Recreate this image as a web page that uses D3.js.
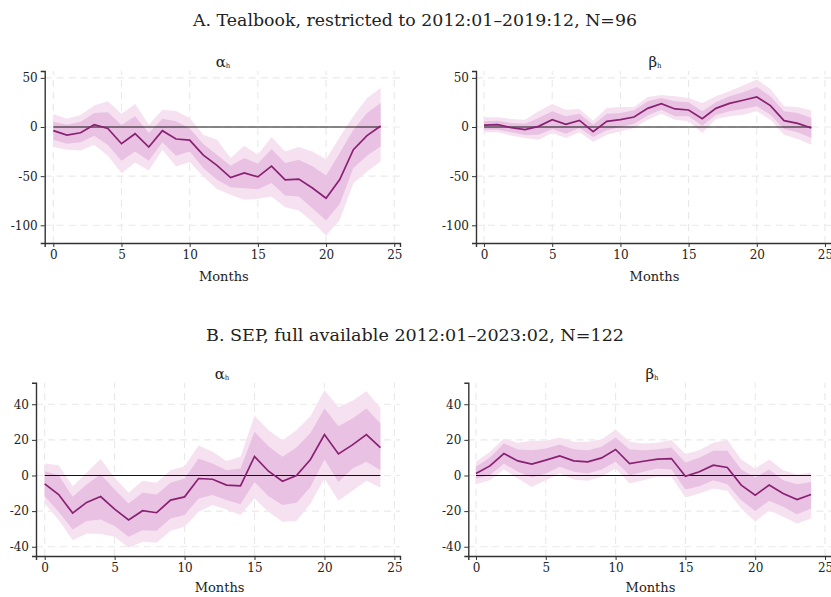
<!DOCTYPE html>
<html><head><meta charset="utf-8">
<script src="https://cdn.jsdelivr.net/npm/d3@7"></script>
<style>body{margin:0;background:#fff}svg{display:block}text{font-family:"DejaVu Serif",serif;fill:#222}</style>
</head><body><svg id="c" width="831" height="597"></svg>
<script>
const months = d3.range(0, 25);
const xTicks = [0, 5, 10, 15, 20, 25];
const yTicksA = [50, 0, -50, -100];
const yTicksB = [40, 20, 0, -20, -40];
const titleA = "A. Tealbook, restricted to 2012:01\u20132019:12, N=96";
const titleB = "B. SEP, full available 2012:01\u20132023:02, N=122";

// Panel A alpha
const aA_mid = [-3.7,-8.2,-5.8,2.4,-1.4,-17,-6.8,-20.4,-3.7,-12.2,-13.3,-28.6,-39,-51.4,-46.6,-50.7,-39.8,-53.7,-53,-62,-72.4,-53.4,-23,-8.8,1];
const aA_in_hi = [5.4,2.4,5.4,14.3,15,2,10.9,-6.1,8.5,5.8,-1.4,-17.3,-28.2,-39.5,-31.6,-37.4,-22.4,-36.7,-33.3,-40,-49.3,-26.5,-2.7,14.3,24.5];
const aA_in_lo = [-13,-17,-15.6,-8.8,-18.4,-34.4,-24.8,-34.4,-15.6,-29.3,-24.8,-41.8,-53.7,-61.2,-62.2,-63.3,-57,-69.7,-70.7,-82.7,-95.2,-78.2,-41.8,-29.3,-19.7];
const aA_out_hi = [13.3,8.5,12.2,21.8,26.2,13.6,23.5,2.4,17.7,16.3,9.2,-7.8,-13,-31.6,-19,-28.2,-10.2,-24.8,-20.4,-24.8,-32.7,-10.2,10.9,29.6,39.8];
const aA_out_lo = [-20.4,-23.1,-23.8,-18,-29.3,-47,-36,-44.2,-23.1,-40.1,-35.7,-50.3,-63,-69,-74.1,-73.1,-70.7,-81.6,-85,-96.3,-110.5,-94.6,-57.1,-45.2,-35];
// Panel A beta
const bA_mid = [2,2.4,-0.7,-2.7,0.7,7.5,2.7,6.8,-4.8,5.8,7.5,10.2,19,23.8,18.4,17.3,8.5,19,24.1,27.2,30.6,21.8,6.5,3.7,-1];
const bA_in_hi = [5.8,6.5,4.1,3.4,9.2,16,10.9,13.6,2.4,13.6,14.3,17,26.2,29.6,26.2,25.2,16,25.2,31.3,35.4,40.8,31.3,16,14.3,9.2];
const bA_in_lo = [-2.7,-2.7,-5.4,-8.2,-7.8,-2,-6.8,-1,-10.2,-3.4,0,3.4,11.6,17.7,10.9,10.9,1.4,12.2,16,18.4,21.1,12.6,-2,-5.4,-11.2];
const bA_out_hi = [9.9,9.9,8.2,7.5,16,23.5,17.7,18.4,6.5,19.4,20.4,20.4,30.6,32.7,31.3,29.6,24.5,31.3,36.4,42.2,48.3,38.8,21.1,20.4,16.7];
const bA_out_lo = [-5.4,-5.4,-8.8,-11.2,-12.9,-6.1,-11.2,-5.4,-15,-7.8,-4.4,-1,7.5,13.6,7.5,5.8,-6.1,8.2,10.9,12.6,16,7.5,-7.8,-12.2,-18];
// Panel B alpha
const aB_mid = [-4.7,-10.7,-21.1,-15.1,-11.8,-18.9,-25,-19.8,-20.9,-13.8,-12,-1.7,-2.1,-5.4,-5.8,10.7,2.4,-3.2,0,9,23,12.1,17.2,23,15.7];
const aB_in_hi = [2.4,0.2,-12,-5,0.7,-7.9,-15.7,-9.7,-10.7,-4.1,-1.7,9.5,6.7,3,3.9,24.5,16.4,10.5,15.7,23.9,37.6,27.7,32,37.6,29.2];
const aB_in_lo = [-11.6,-20.4,-30.3,-25.6,-24.7,-28.4,-34.4,-30.7,-31,-24.1,-22.2,-12.9,-11,-13.8,-16.1,-3.6,-11.6,-16.6,-15.3,-6.4,9,-3.6,3.9,7.7,3];
const aB_out_hi = [6.7,5.8,-6,1.5,9.3,-1.3,-9.7,-3,-4.1,3,5.2,16.8,13.3,8.2,10.5,33.6,25.4,19.8,25.4,33.3,47.9,38.5,41.9,47.3,37.9];
const aB_out_lo = [-15.7,-25,-36.3,-32.5,-32.9,-34.4,-40.6,-37.2,-37.8,-31,-28.8,-20.4,-16.6,-19.1,-22.2,-12.9,-20.4,-26,-25.6,-15.7,-1.7,-14.2,-8.6,-3,-6.7];
// Panel B beta
const bB_mid = [1.1,5.4,12.3,8.2,6.4,8.6,11,8.2,7.7,9.9,14.6,6.7,8,9.2,9.5,-0.4,2.1,5.8,4.5,-5.4,-11,-5.4,-10.1,-13.5,-10.7];
const bB_in_hi = [4.9,10.1,18,14.6,14.2,15.2,17.4,14.8,14.2,16.1,21.3,14.6,14.2,14.6,15.7,7.3,9.9,13.9,13.9,3.4,-1.1,3.4,-2.6,-4.9,-3.6];
const bB_in_lo = [-1.7,0.2,6.7,2.1,-1.1,1.1,4.9,2.1,1.1,3.4,7.7,0.2,2.1,3.9,3.4,-7.9,-6,-2.6,-4.9,-13.9,-19.9,-14.2,-17.6,-21.7,-18.5];
const bB_out_hi = [7.7,13.3,20.8,18.4,19.5,19.5,21.3,18.9,18.9,20.2,25.8,18.9,18,18.4,19.9,12,14.2,18.4,19.9,9,3.9,9,3,0.6,1.5];
const bB_out_lo = [-4.9,-2.6,3.4,-1.7,-6.4,-2.6,1.1,-2.2,-3,-0.7,3.9,-4.5,-2.6,-0.7,-0.7,-12.4,-10.1,-7.3,-8.6,-18.5,-26,-19.5,-23.2,-27,-24.1];

const svg = d3.select("#c");
const C_OUT = "#f6e1f1", C_IN = "#e9c1e3", C_LINE = "#892172";
const FONT = '"DejaVu Serif",serif';

function panel(o) {
  const g = svg.append("g");
  const x = d3.scaleLinear().domain(o.xd).range(o.xr);
  const y = d3.scaleLinear().domain(o.yd).range(o.yr);
  g.selectAll(".gx").data(xTicks).join("line")
    .attr("x1", d => x(d)).attr("x2", d => x(d)).attr("y1", o.yr[0]).attr("y2", o.yr[1])
    .attr("stroke", "#e9e9e9").attr("stroke-width", 1.1).attr("stroke-dasharray", "7,5");
  g.selectAll(".gy").data(o.yt).join("line")
    .attr("x1", o.xr[0]).attr("x2", o.xr[1]).attr("y1", d => y(d)).attr("y2", d => y(d))
    .attr("stroke", "#e9e9e9").attr("stroke-width", 1.1).attr("stroke-dasharray", "7,5");
  const band = (lo, hi) => d3.area().x((d, i) => x(months[i])).y0((d, i) => y(lo[i])).y1((d, i) => y(hi[i]))(months);
  g.append("path").attr("d", band(o.olo, o.ohi)).attr("fill", C_OUT);
  g.append("path").attr("d", band(o.ilo, o.ihi)).attr("fill", C_IN);
  g.append("line").attr("x1", x(0)).attr("x2", x(24)).attr("y1", y(0)).attr("y2", y(0))
    .attr("stroke", "#111").attr("stroke-width", 1.2);
  g.append("path").attr("d", d3.line().x((d, i) => x(months[i])).y((d, i) => y(o.mid[i]))(months))
    .attr("fill", "none").attr("stroke", C_LINE).attr("stroke-width", 1.7);
  const ax = g.append("g").attr("transform", `translate(0,${o.yr[0]})`)
    .call(d3.axisBottom(x).tickValues(xTicks).tickSizeOuter(0).tickSize(4).tickPadding(3));
  const ay = g.append("g").attr("transform", `translate(${o.xr[0]},0)`)
    .call(d3.axisLeft(y).tickValues(o.yt).tickSizeOuter(0).tickSize(4).tickPadding(3));
  [ax, ay].forEach(a => {
    a.attr("font-family", FONT);
    a.select(".domain").attr("stroke", "#333").attr("stroke-width", 1.4);
    a.selectAll(".tick line").attr("stroke", "#333").attr("stroke-width", 1);
    a.selectAll("text").attr("font-size", 12).attr("fill", "#222");
  });
  ay.selectAll("text").text(d => d < 0 ? "-" + Math.abs(d) : d);
  const t = g.append("text").attr("x", o.tx).attr("y", o.ty).attr("text-anchor", "middle").attr("font-size", 15);
  t.append("tspan").text(o.sym);
  t.append("tspan").attr("font-size", 7).attr("dy", 1).text("h");
  g.append("text").attr("x", x(12.5)).attr("y", o.my).attr("text-anchor", "middle").attr("font-size", 13).text("Months");
}

const yA = {yd: [-118, 57], yr: [243, 71], yt: yTicksA};
const yB = {yd: [-45.2, 52.1], yr: [556, 382.7], yt: yTicksB};
panel(Object.assign({}, yA, {xd: [-0.63, 25.42], xr: [44.7, 400], mid: aA_mid, ilo: aA_in_lo, ihi: aA_in_hi, olo: aA_out_lo, ohi: aA_out_hi, sym: "\u03b1", tx: 223, ty: 67, my: 281}));
panel(Object.assign({}, yA, {xd: [-0.59, 25.48], xr: [476, 831.5], mid: bA_mid, ilo: bA_in_lo, ihi: bA_in_hi, olo: bA_out_lo, ohi: bA_out_hi, sym: "\u03b2", tx: 655, ty: 67, my: 281}));
panel(Object.assign({}, yB, {xd: [-0.62, 25.4], xr: [36, 400], mid: aB_mid, ilo: aB_in_lo, ihi: aB_in_hi, olo: aB_out_lo, ohi: aB_out_hi, sym: "\u03b1", tx: 222, ty: 379, my: 592}));
panel(Object.assign({}, yB, {xd: [-0.55, 25.5], xr: [468.3, 832], mid: bB_mid, ilo: bB_in_lo, ihi: bB_in_hi, olo: bB_out_lo, ohi: bB_out_hi, sym: "\u03b2", tx: 652, ty: 379, my: 592}));

svg.append("text").attr("x", 415).attr("y", 26).attr("text-anchor", "middle").attr("font-size", 17)
  .attr("textLength", 444).attr("lengthAdjust", "spacingAndGlyphs").text(titleA);
svg.append("text").attr("x", 415).attr("y", 341).attr("text-anchor", "middle").attr("font-size", 17)
  .attr("textLength", 418).attr("lengthAdjust", "spacingAndGlyphs").text(titleB);
</script></body></html>
